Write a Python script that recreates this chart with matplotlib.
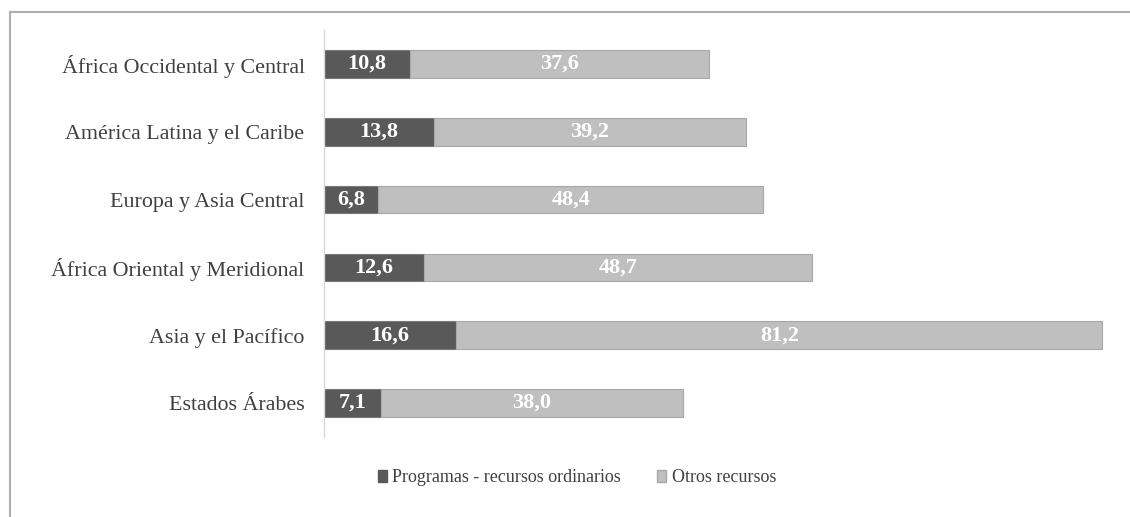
import matplotlib
matplotlib.use("Agg")
import matplotlib.pyplot as plt
from matplotlib.patches import Patch

categories = ["África Occidental y Central", "América Latina y el Caribe",
              "Europa y Asia Central", "África Oriental y Meridional",
              "Asia y el Pacífico", "Estados Árabes"]
ordinarios = [10.8, 13.8, 6.8, 12.6, 16.6, 7.1]
otros = [37.6, 39.2, 48.4, 48.7, 81.2, 38.0]
series_names = ["Programas - recursos ordinarios", "Otros recursos"]

plt.rcParams['font.family'] = 'serif'
plt.rcParams['font.serif'] = ['Liberation Serif', 'DejaVu Serif']

W, H = 1130, 517
fig = plt.figure(figsize=(W/100, H/100), dpi=100)
ax = fig.add_axes([324/W, 1-437/H, (1108-324)/W, (437-30)/H])

dark = "#595959"
light = "#bfbfbf"
y = list(range(len(categories)))
h = 0.41
ax.barh(y, ordinarios, height=h, color=dark, edgecolor="#7a7a7a", linewidth=0.8)
ax.barh(y, otros, left=ordinarios, height=h, color=light, edgecolor="#a8a8a8", linewidth=0.8)

def fmt(v):
    return f"{v:.1f}".replace(".", ",")

for i in y:
    ax.text(ordinarios[i]/2, i, fmt(ordinarios[i]), ha="center", va="center",
            color="white", fontsize=16, fontweight="bold")
    ax.text(ordinarios[i] + otros[i]/2, i, fmt(otros[i]), ha="center", va="center",
            color="white", fontsize=16, fontweight="bold")

ax.set_xlim(0, 98.5)
ax.set_ylim(len(categories)-0.5, -0.5)
ax.set_yticks(y)
ax.set_yticklabels(categories, fontsize=15.8, color="#404040")
ax.tick_params(axis="y", length=0, pad=14)
ax.set_xticks([])
for s in ["top", "right", "bottom"]:
    ax.spines[s].set_visible(False)
ax.spines["left"].set_color("#d9d9d9")
ax.spines["left"].set_linewidth(1)

handles = [Patch(facecolor=dark, edgecolor=dark), Patch(facecolor=light, edgecolor="#a8a8a8")]
fig.legend(handles, series_names, loc="center", bbox_to_anchor=(577/W, 1-478/H),
           ncol=2, frameon=False, fontsize=13, handlelength=0.5, handleheight=0.6,
           handletextpad=0.3, columnspacing=2.0, labelcolor="#404040")

fig.add_artist(plt.Line2D([10/W, 1], [1-12/H, 1-12/H], transform=fig.transFigure,
                          color="#b0b0b0", linewidth=1.5))
fig.add_artist(plt.Line2D([10/W, 10/W], [0, 1-12/H], transform=fig.transFigure,
                          color="#b0b0b0", linewidth=1.5))

fig.savefig("out.png", dpi=100)
